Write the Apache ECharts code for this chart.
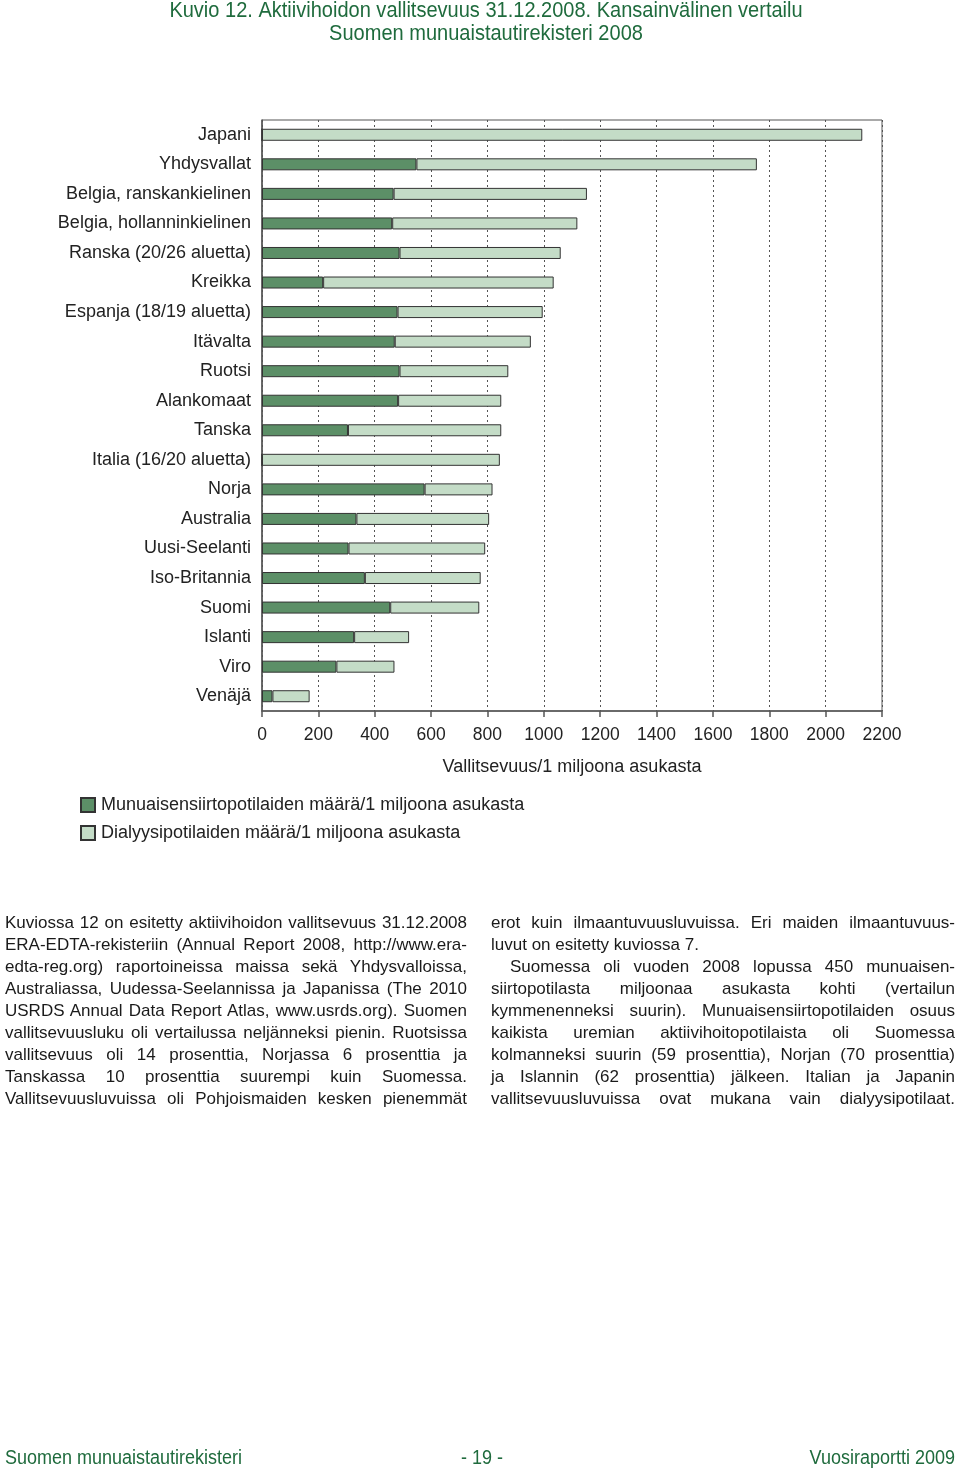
<!DOCTYPE html>
<html>
<head>
<meta charset="utf-8">
<script src="https://cdn.jsdelivr.net/npm/echarts@6/dist/echarts.min.js"></script>
<style>
  html, body { margin: 0; padding: 0; background: #fff; }
  #chart { position: absolute; left: 0; top: 0; width: 960px; height: 1474px; }
  .col { position: absolute; top: 912px; font-family: "Liberation Sans", Arial, sans-serif; font-size: 17px; line-height: 22px; color: #1a1a1a; }
  .ln { white-space: nowrap; text-align: justify; text-align-last: justify; }
  .ln.last { text-align-last: left; }
  .ind { text-indent: 19px; }
</style>
</head>
<body>
<div id="chart"></div>
<div class="col" style="left:5px; width:462px;">
  <div class="ln">Kuviossa 12 on esitetty aktiivihoidon vallitsevuus 31.12.2008</div>
  <div class="ln">ERA-EDTA-rekisteriin (Annual Report 2008, http://www.era-</div>
  <div class="ln">edta-reg.org) raportoineissa maissa sekä Yhdysvalloissa,</div>
  <div class="ln">Australiassa, Uudessa-Seelannissa ja Japanissa (The 2010</div>
  <div class="ln">USRDS Annual Data Report Atlas, www.usrds.org). Suomen</div>
  <div class="ln">vallitsevuusluku oli vertailussa neljänneksi pienin. Ruotsissa</div>
  <div class="ln">vallitsevuus oli 14 prosenttia, Norjassa 6 prosenttia ja</div>
  <div class="ln">Tanskassa 10 prosenttia suurempi kuin Suomessa.</div>
  <div class="ln">Vallitsevuusluvuissa oli Pohjoismaiden kesken pienemmät</div>
</div>
<div class="col" style="left:491px; width:464px;">
  <div class="ln">erot kuin ilmaantuvuusluvuissa. Eri maiden ilmaantuvuus-</div>
  <div class="ln last">luvut on esitetty kuviossa 7.</div>
  <div class="ln ind">Suomessa oli vuoden 2008 lopussa 450 munuaisen-</div>
  <div class="ln">siirtopotilasta miljoonaa asukasta kohti (vertailun</div>
  <div class="ln">kymmenenneksi suurin). Munuaisensiirtopotilaiden osuus</div>
  <div class="ln">kaikista uremian aktiivihoitopotilaista oli Suomessa</div>
  <div class="ln">kolmanneksi suurin (59 prosenttia), Norjan (70 prosenttia)</div>
  <div class="ln">ja Islannin (62 prosenttia) jälkeen. Italian ja Japanin</div>
  <div class="ln">vallitsevuusluvuissa ovat mukana vain dialyysipotilaat.</div>
</div>
<script>
const categories = [
  "Japani", "Yhdysvallat", "Belgia, ranskankielinen", "Belgia, hollanninkielinen",
  "Ranska (20/26 aluetta)", "Kreikka", "Espanja (18/19 aluetta)", "Itävalta",
  "Ruotsi", "Alankomaat", "Tanska", "Italia (16/20 aluetta)", "Norja",
  "Australia", "Uusi-Seelanti", "Iso-Britannia", "Suomi", "Islanti", "Viro", "Venäjä"
];
const transplant = [0, 548, 467, 462, 488, 217, 481, 471, 488, 483, 305, 0, 577, 335, 307, 365, 455, 327, 264, 37];
const dialysis = [2130, 1208, 686, 657, 572, 818, 515, 483, 386, 366, 544, 844, 241, 471, 485, 411, 316, 195, 206, 132];
const seriesNames = ["Munuaisensiirtopotilaiden määrä/1 miljoona asukasta", "Dialyysipotilaiden määrä/1 miljoona asukasta"];
const titleLines = ["Kuvio 12. Aktiivihoidon vallitsevuus 31.12.2008. Kansainvälinen vertailu", "Suomen munuaistautirekisteri 2008"];
const axisName = "Vallitsevuus/1 miljoona asukasta";
const footer = ["Suomen munuaistautirekisteri", "- 19 -", "Vuosiraportti 2009"];

const GREEN_TEXT = "#1f6b3d";
const FONT = '"Liberation Sans", Arial, sans-serif';

const chart = echarts.init(document.getElementById('chart'), null, { renderer: 'canvas' });
chart.setOption({
  animation: false,
  backgroundColor: '#fff',
  textStyle: { fontFamily: FONT },
  grid: { left: 262, top: 120, right: 78, bottom: 763, show: true, borderColor: '#555', borderWidth: 1, containLabel: false },
  legend: {
    orient: 'vertical', left: 80, top: 796, padding: 0, itemWidth: 14, itemHeight: 14, itemGap: 10,
    icon: 'rect', textStyle: { fontSize: 18, color: '#222', fontFamily: FONT, padding: [0, 0, 0, 1] },
    data: seriesNames
  },
  xAxis: {
    type: 'value', min: 0, max: 2200, interval: 200,
    name: axisName, nameLocation: 'middle', nameGap: 47,
    nameTextStyle: { fontSize: 18, color: '#222', fontFamily: FONT },
    axisLine: { show: true, lineStyle: { color: '#555', width: 1.5 } },
    axisTick: { show: true, length: 6, lineStyle: { color: '#555', width: 1.5 } },
    axisLabel: { fontSize: 17.5, color: '#222', margin: 15, fontFamily: FONT, formatter: v => String(v) },
    splitLine: { show: true, lineStyle: { color: '#555', type: [2, 3], width: 1 } }
  },
  yAxis: {
    type: 'category', inverse: true, data: categories,
    axisLine: { show: true, lineStyle: { color: '#555', width: 1.5 } },
    axisTick: { show: false },
    axisLabel: { fontSize: 18, color: '#222', margin: 11, fontFamily: FONT }
  },
  series: [
    { name: seriesNames[0], type: 'bar', stack: 'tot', data: transplant, barWidth: 12,
      itemStyle: { color: '#5c8f67', borderColor: '#333', borderWidth: 1 } },
    { name: seriesNames[1], type: 'bar', stack: 'tot', data: dialysis, barWidth: 12,
      itemStyle: { color: '#c4dcc7', borderColor: '#333', borderWidth: 1 } }
  ],
  graphic: [
    { type: 'text', x: 486, y: 0, scaleX: 0.91, style: { text: titleLines[0], fill: GREEN_TEXT, font: '22px ' + FONT, textAlign: 'center', textVerticalAlign: 'top' } },
    { type: 'text', x: 486, y: 23, scaleX: 0.91, style: { text: titleLines[1], fill: GREEN_TEXT, font: '22px ' + FONT, textAlign: 'center', textVerticalAlign: 'top' } },
    { type: 'text', x: 5, y: 1458, scaleX: 0.9, style: { text: footer[0], fill: GREEN_TEXT, font: '20px ' + FONT, textAlign: 'left', textVerticalAlign: 'middle' } },
    { type: 'text', x: 482, y: 1458, scaleX: 0.9, style: { text: footer[1], fill: GREEN_TEXT, font: '20px ' + FONT, textAlign: 'center', textVerticalAlign: 'middle' } },
    { type: 'text', x: 955, y: 1458, scaleX: 0.9, style: { text: footer[2], fill: GREEN_TEXT, font: '20px ' + FONT, textAlign: 'right', textVerticalAlign: 'middle' } }
  ]
});
</script>
</body>
</html>
